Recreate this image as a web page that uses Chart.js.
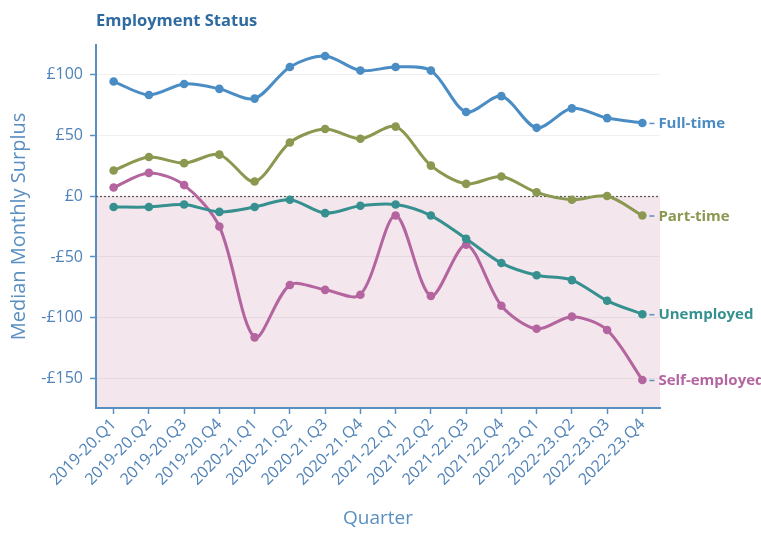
<!DOCTYPE html>
<html><head><meta charset="utf-8">
<script src="https://cdn.jsdelivr.net/npm/chart.js@4/dist/chart.umd.min.js"></script>
<style>html,body{margin:0;padding:0;background:#fff}#wrap{width:761px;height:533px}</style>
</head><body><div id="wrap"><canvas id="c" width="761" height="533"></canvas></div>
<script>
const quarters = ['2019-20.Q1','2019-20.Q2','2019-20.Q3','2019-20.Q4','2020-21.Q1','2020-21.Q2','2020-21.Q3','2020-21.Q4','2021-22.Q1','2021-22.Q2','2021-22.Q3','2021-22.Q4','2022-23.Q1','2022-23.Q2','2022-23.Q3','2022-23.Q4'];
const fullTime     = [94, 83, 92, 88, 80, 106, 115, 103, 106, 103, 69, 82, 56, 72, 64, 60];
const partTime     = [21, 32, 27, 34, 12, 44, 55, 47, 57, 25, 10, 16, 3, -3, 0, -16];
const unemployed   = [-9, -9, -7, -13, -9, -3, -14, -8, -7, -16, -35, -55, -65, -69, -86, -97];
const selfEmployed = [7, 19, 9, -25, -116, -73, -77, -81, -16, -82, -40, -90, -109, -99, -110, -151];
const seriesNames  = ['Full-time', 'Part-time', 'Unemployed', 'Self-employed'];
const seriesColors = ['#4a8cc4', '#8a9850', '#35908f', '#b4659f'];
const yTicks = [-150, -100, -50, 0, 50, 100];
const yRange = [-174, 124];

const AXIS_BLUE = '#5a8fc2';
const TICK_BLUE = '#4f82b8';
const FONT = "'Open Sans', sans-serif";

const annot = {
  id: 'annot',
  beforeDraw(chart) {
    const {ctx, chartArea: a, scales: {y}} = chart;
    const y0 = y.getPixelForValue(0);
    ctx.save();
    ctx.fillStyle = '#f3e6ec';
    ctx.fillRect(a.left, y0, a.right - a.left, a.bottom - y0);
    ctx.fillStyle = '#2f6aa1';
    ctx.font = "bold 16.5px " + FONT;
    ctx.textBaseline = 'middle';
    ctx.textAlign = 'left';
    ctx.fillText('Employment Status', a.left, 21);
    ctx.restore();
  },
  beforeDatasetsDraw(chart) {
    const {ctx, chartArea: a, scales: {y}} = chart;
    const y0 = Math.round(y.getPixelForValue(0)) + 0.5;
    ctx.save();
    ctx.strokeStyle = '#555';
    ctx.lineWidth = 1.2;
    ctx.setLineDash([2, 2]);
    ctx.beginPath();
    ctx.moveTo(a.left, y0);
    ctx.lineTo(a.right, y0);
    ctx.stroke();
    ctx.restore();
  },
  afterDatasetsDraw(chart) {
    const {ctx} = chart;
    ctx.save();
    ctx.textBaseline = 'middle';
    chart.data.datasets.forEach((ds, i) => {
      const meta = chart.getDatasetMeta(i);
      const pt = meta.data[meta.data.length - 1];
      ctx.strokeStyle = AXIS_BLUE;
      ctx.lineWidth = 1.5;
      ctx.beginPath();
      ctx.moveTo(pt.x + 7, pt.y + 0.5);
      ctx.lineTo(pt.x + 12, pt.y + 0.5);
      ctx.stroke();
      ctx.fillStyle = ds.borderColor;
      ctx.font = "bold 15px " + FONT;
      ctx.textAlign = 'left';
      ctx.fillText(ds.label, pt.x + 16, pt.y + 1);
    });
    ctx.restore();
  }
};

const series = [fullTime, partTime, unemployed, selfEmployed];
const datasets = series.map((d, i) => ({
  label: seriesNames[i],
  data: d,
  borderColor: seriesColors[i],
  backgroundColor: seriesColors[i],
  borderWidth: 3,
  pointRadius: 4.3,
  pointBorderWidth: 0,
  tension: 0.3,
  clip: false
}));

new Chart(document.getElementById('c'), {
  type: 'line',
  data: { labels: quarters, datasets },
  plugins: [annot],
  options: {
    responsive: false,
    animation: false,
    devicePixelRatio: 1,
    layout: { padding: { top: 45, right: 101, left: 0, bottom: 0 } },
    plugins: { legend: { display: false }, tooltip: { enabled: false } },
    scales: {
      x: {
        offset: true,
        afterFit(s) { s.height = 125; },
        grid: { drawOnChartArea: false, drawTicks: true, tickLength: 6, tickColor: AXIS_BLUE, tickWidth: 1.5, offset: false },
        border: { display: true, color: AXIS_BLUE, width: 2 },
        ticks: { autoSkip: false, maxRotation: 45, minRotation: 45, color: TICK_BLUE, font: { family: FONT, size: 16 }, padding: 1 },
        title: { display: true, text: 'Quarter', color: AXIS_BLUE, font: { family: FONT, size: 19 }, padding: { top: 0, bottom: 3 } }
      },
      y: {
        min: yRange[0],
        max: yRange[1],
        afterFit(s) { s.width = 96; },
        afterBuildTicks(s) { s.ticks = yTicks.map(v => ({ value: v })); },
        grid: {
          color: c => (c.tick && c.tick.value === 0) ? 'rgba(0,0,0,0)' : 'rgba(120,100,110,0.10)',
          lineWidth: 1,
          tickLength: 6,
          tickColor: AXIS_BLUE,
          tickWidth: 1.5
        },
        border: { display: true, color: AXIS_BLUE, width: 2 },
        ticks: {
          color: TICK_BLUE,
          font: { family: FONT, size: 16 },
          padding: 7,
          callback: v => v < 0 ? '-£' + Math.abs(v) : '£' + v
        },
        title: { display: true, text: 'Median Monthly Surplus', color: AXIS_BLUE, font: { family: FONT, size: 20 }, padding: { top: 7, bottom: 0 } }
      }
    }
  }
});
</script>
</body></html>
